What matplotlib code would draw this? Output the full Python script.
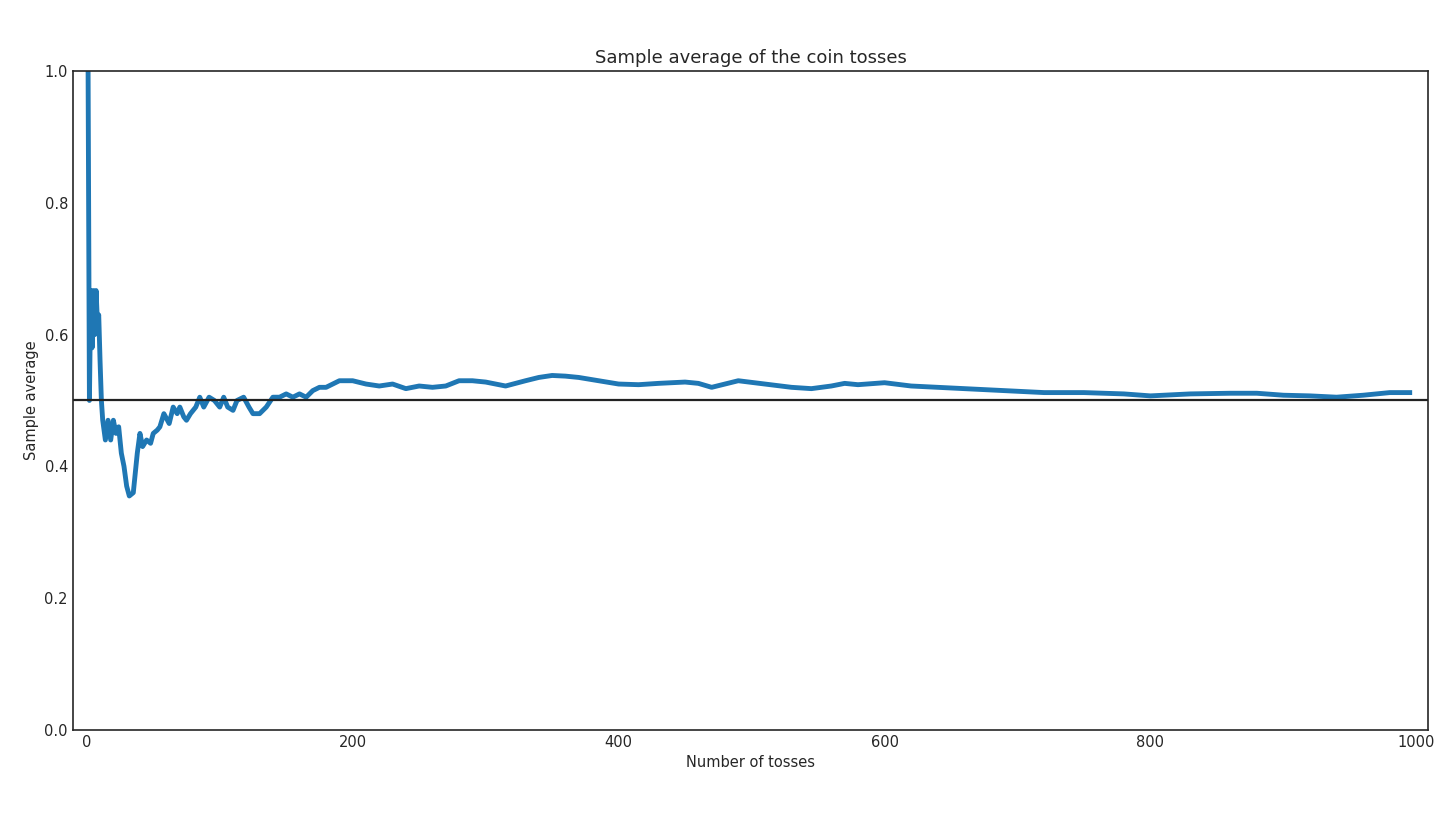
import matplotlib.pyplot as plt

# values
tosses = [1, 2, 3, 4, 5, 6, 7, 8, 9, 10, 11, 12, 14, 16, 18, 20, 22, 24, 26, 28,
          30, 32, 35, 38, 40, 42, 45, 48, 50, 53, 55, 58, 62, 65, 68, 70, 73, 75, 78,
          82, 85, 88, 92, 96, 100, 103, 106, 110, 113, 118, 122, 125, 130, 135, 140,
          145, 150, 155, 160, 165, 170, 175, 180, 190, 200, 210, 220, 230, 240, 250,
          260, 270, 280, 290, 300, 315, 330, 340, 350, 360, 370, 385, 400, 415, 430,
          450, 460, 470, 480, 490, 510, 530, 545, 560, 570, 580, 600, 620, 640, 660,
          680, 700, 720, 750, 780, 800, 830, 860, 880, 900, 920, 940, 960, 980, 995]
avg = [1.0, 0.5, 0.667, 0.58, 0.667, 0.6, 0.667, 0.62, 0.63, 0.56, 0.5, 0.47,
       0.44, 0.47, 0.44, 0.47, 0.45, 0.46, 0.42, 0.40, 0.37, 0.355, 0.36, 0.42,
       0.45, 0.43, 0.44, 0.435, 0.45, 0.455, 0.46, 0.48, 0.465, 0.49, 0.48, 0.49,
       0.475, 0.47, 0.48, 0.49, 0.505, 0.49, 0.505, 0.5, 0.49, 0.505, 0.49, 0.485,
       0.5, 0.505, 0.49, 0.48, 0.48, 0.49, 0.505, 0.505, 0.51, 0.505, 0.51, 0.505,
       0.515, 0.52, 0.52, 0.53, 0.53, 0.525, 0.522, 0.525, 0.518, 0.522, 0.52, 0.522,
       0.53, 0.53, 0.528, 0.522, 0.53, 0.535, 0.538, 0.537, 0.535, 0.53, 0.525,
       0.524, 0.526, 0.528, 0.526, 0.52, 0.525, 0.53, 0.525, 0.52, 0.518, 0.522,
       0.526, 0.524, 0.527, 0.522, 0.52, 0.518, 0.516, 0.514, 0.512, 0.512, 0.51,
       0.507, 0.51, 0.511, 0.511, 0.508, 0.507, 0.505, 0.508, 0.512, 0.512]
true_mean = 0.5

fig = plt.figure(figsize=(14.56, 8.19), dpi=100)
ax = fig.add_axes([0.050, 0.109, 0.931, 0.804])
ax.plot(tosses, avg, color='#1f77b4', lw=3.5)
ax.axhline(true_mean, color='#222222', lw=1.6)
ax.set_xlim(-10.5, 1009)
ax.set_ylim(0, 1.0)
ax.set_xticks([0, 200, 400, 600, 800, 1000])
ax.set_yticks([0.0, 0.2, 0.4, 0.6, 0.8, 1.0])
ax.tick_params(labelsize=10.5, colors='#262626', length=0)
for s in ax.spines.values():
    s.set_color('#262626')
    s.set_linewidth(1.2)
ax.set_title('Sample average of the coin tosses', fontsize=13, color='#262626')
ax.set_xlabel('Number of tosses', fontsize=10.5, color='#262626')
ax.set_ylabel('Sample average', fontsize=10.5, color='#262626')
fig.savefig('out.png', dpi=100)
